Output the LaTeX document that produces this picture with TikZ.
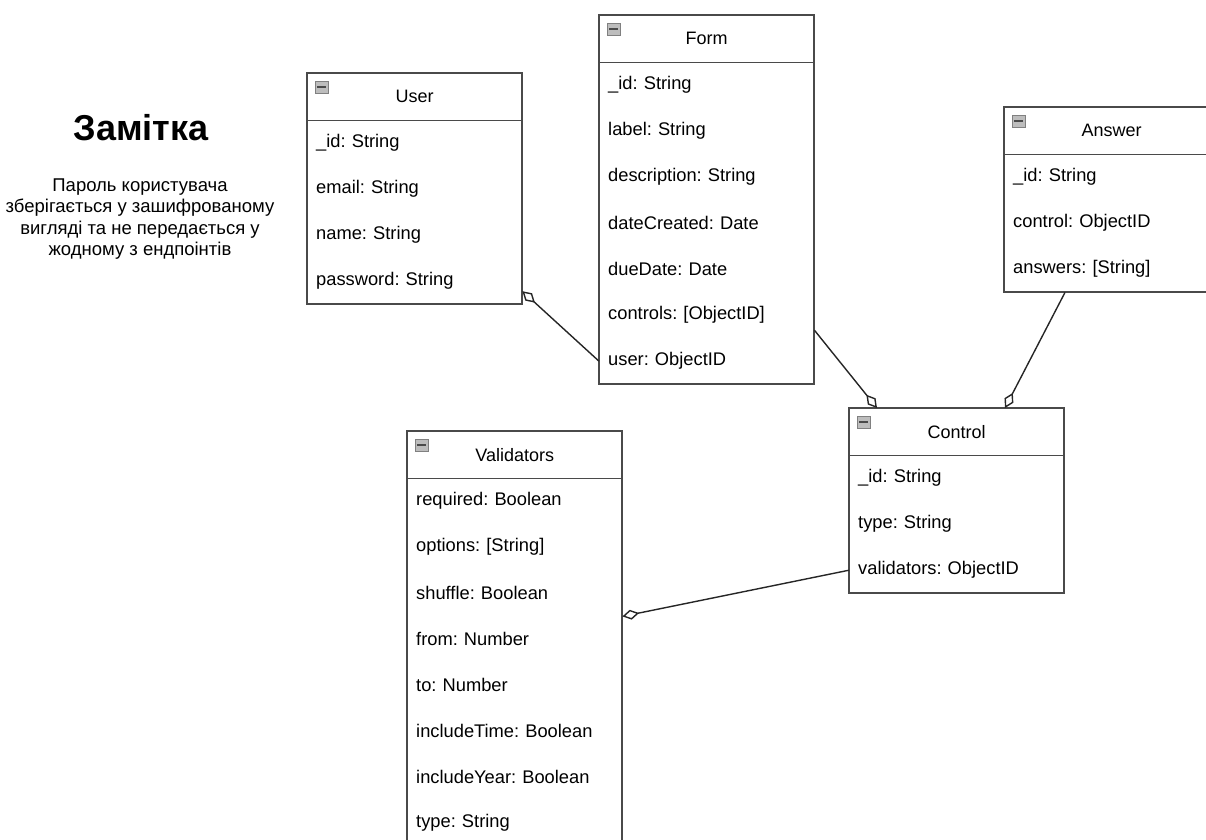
\documentclass[tikz,border=0pt]{standalone}
\usepackage{fontspec}
\setmainfont{Liberation Sans}
\usetikzlibrary{arrows.meta}
\frenchspacing
\definecolor{framegray}{HTML}{4A4A4A}
\definecolor{icongray}{HTML}{BDBDBD}
\tikzset{
	classhead/.style={minimum width=215pt, minimum height=47pt, inner sep=0pt,
		font=\fontsize{18}{21.6}\selectfont},
	classrow/.style={minimum width=215pt, minimum height=46pt, inner xsep=9pt, inner ysep=0pt,
		text width=197pt, align=left, font=\fontsize{18.3}{21.6}\selectfont},
	classline/.style={draw=framegray, line width=1.6pt},
	minusicon/.style={draw=gray, fill=icongray, line width=0.7pt, minimum width=13pt,
		minimum height=12pt, inner sep=0pt},
	aggr/.style={draw=black!85, line width=1.4pt, {Diamond[open,length=17pt,width=10pt]}-}
}
\newcommand{\umlclass}[6] % name, x, y, title, number of rows, rows
{
	% header
	\node[classhead, anchor=north west] (#1-h) at (#2,#3) {#4};
	% collapse icon
	\node[minusicon] (#1-icon) at ([xshift=14.5pt,yshift=-14pt]#1-h.north west) {};
	\draw[framegray, line width=2pt] ([xshift=2.5pt]#1-icon.west) -- ([xshift=-2.5pt]#1-icon.east);
	% rows
	\foreach \txt [count=\i] in {#6}
		\node[classrow, anchor=north west] (#1-\i) at ({#2},{#3+47+46*(\i-1)}) {\txt};
	% frame
	\draw[classline] (#2,#3) rectangle ++(215,{47+46*#5});
	\draw[classline] (#1-h.south west) -- (#1-h.south east);
}

\begin{document}
\begin{tikzpicture}[x=1pt, y=-1pt]
	% 1206 x 839, y grows downwards
	\path[use as bounding box, clip] (0,0) rectangle (1206,839);

	% note on the left
	\node[font=\fontsize{36}{40}\selectfont\bfseries] (title) at (141,128) {Замітка};
	\node[align=center, font=\fontsize{18.5}{21.5}\selectfont] (note) at (140,219)
		{Пароль користувача\\зберігається у зашифрованому\\вигляді та не передається у\\жодному з ендпоінтів};

	\umlclass{user}{307}{73}{User}{4}
		{\_id: String, email: String, name: String, password: String}
	\umlclass{form}{599}{15}{Form}{7}
		{\_id: String, label: String, description: String, dateCreated: Date,
		 dueDate: Date, controls: [ObjectID], user: ObjectID}
	\umlclass{answer}{1004}{107}{Answer}{3}
		{\_id: String, control: ObjectID, answers: [String]}
	\umlclass{control}{849}{408}{Control}{3}
		{\_id: String, type: String, validators: ObjectID}
	\umlclass{val}{407}{431}{Validators}{8}
		{required: Boolean, options: [String], shuffle: Boolean, from: Number,
		 to: Number, includeTime: Boolean, includeYear: Boolean, type: String}

	% aggregations
	\draw[aggr] ([yshift=-10pt]user-4.east) -- (form-7.west);
	\draw[aggr] ([xshift=28pt]control-h.north west) -- ([yshift=-15pt]form-6.east);
	\draw[aggr] ([xshift=156pt]control-h.north west) -- ([xshift=61pt]answer-3.south west);
	\draw[aggr] (val-3.south east) -- (control-3.west);
\end{tikzpicture}
\end{document}
